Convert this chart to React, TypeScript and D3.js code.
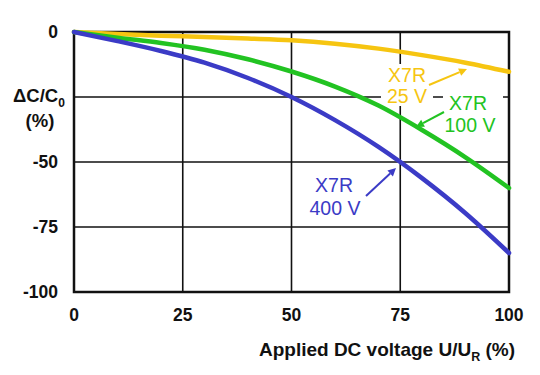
import React from "react";
import * as d3 from "d3";

const voltagePct = [0, 10, 20, 30, 40, 50, 60, 70, 80, 90, 100];
const x7r25V = [0, -0.8, -1.4, -1.9, -2.5, -3.2, -4.5, -6.4, -8.9, -11.8, -15.3];
const x7r100V = [0, -2.2, -4.2, -6.8, -10.5, -15.2, -21, -28.3, -37.7, -48.2, -60];
const x7r400V = [0, -3.5, -7.3, -11.8, -17.7, -25, -33.9, -44.2, -56.2, -69.7, -85];
const xTicks = [0, 25, 50, 75, 100];
const yTicks = [0, -25, -50, -75, -100];
const yTickLabels = ["0", "", "-50", "-75", "-100"];

const W = 540, H = 375;
const x = d3.scaleLinear().domain([0, 100]).range([74, 509]);
const y = d3.scaleLinear().domain([0, -100]).range([32, 292]);

const YELLOW = "#F6C511";
const GREEN = "#22C322";
const BLUE = "#3B3BC6";
const FONT = "'Liberation Sans', Arial, sans-serif";

const line = d3
  .line<[number, number]>()
  .x((d) => x(d[0]))
  .y((d) => y(d[1]))
  .curve(d3.curveMonotoneX);

const series = [
  { values: x7r25V, color: YELLOW },
  { values: x7r100V, color: GREEN },
  { values: x7r400V, color: BLUE },
];

function Arrow({ x1, y1, x2, y2, color }: { x1: number; y1: number; x2: number; y2: number; color: string }) {
  const ang = Math.atan2(y2 - y1, x2 - x1);
  const L = 8, Wd = 4;
  const bx = x2 - L * Math.cos(ang), by = y2 - L * Math.sin(ang);
  const px = -Math.sin(ang) * Wd, py = Math.cos(ang) * Wd;
  return (
    <g>
      <line x1={x1} y1={y1} x2={bx} y2={by} stroke={color} strokeWidth={2} />
      <polygon points={`${x2},${y2} ${bx + px},${by + py} ${bx - px},${by - py}`} fill={color} />
    </g>
  );
}

export default function App() {
  return (
    <div style={{ position: "absolute", left: 0, top: 0 }}>
      <svg width={W} height={H} style={{ display: "block", background: "#fff" }} fontFamily={FONT}>
        {/* grid */}
        {yTicks.map((t) => (
          <line key={"gy" + t} x1={x(0)} x2={x(100)} y1={y(t)} y2={y(t)} stroke="#111" strokeWidth={1.6} />
        ))}
        {xTicks.map((t) => (
          <line key={"gx" + t} x1={x(t)} x2={x(t)} y1={y(0)} y2={y(-100)} stroke="#111" strokeWidth={1.6} />
        ))}
        <rect x={x(0)} y={y(0)} width={x(100) - x(0)} height={y(-100) - y(0)} fill="none" stroke="#111" strokeWidth={2.5} />

        {/* label backgrounds */}
        <rect x={381} y={64} width={52} height={42} fill="#fff" />
        <rect x={443} y={91} width={60} height={44} fill="#fff" />

        {/* curves */}
        {series.map((s, i) => (
          <path
            key={i}
            d={line(voltagePct.map((v, j) => [v, s.values[j]] as [number, number])) || ""}
            fill="none"
            stroke={s.color}
            strokeWidth={4.5}
            strokeLinecap="round"
          />
        ))}

        {/* y tick labels */}
        {yTicks.map((t, i) =>
          yTickLabels[i] ? (
            <text key={"ty" + t} x={58} y={y(t)} dy="0.35em" textAnchor="end" fontSize={17.5} fontWeight="bold" fill="#111">
              {yTickLabels[i]}
            </text>
          ) : null
        )}
        {/* x tick labels */}
        {xTicks.map((t) => (
          <text key={"tx" + t} x={x(t)} y={321} textAnchor="middle" fontSize={17.5} fontWeight="bold" fill="#111">
            {t}
          </text>
        ))}

        {/* y label */}
        <text x={39} y={102} textAnchor="middle" fontSize={18.5} fontWeight="bold" fill="#111">
          ΔC/C<tspan fontSize={12} dy={5}>0</tspan>
        </text>
        <text x={40} y={127} textAnchor="middle" fontSize={18.5} fontWeight="bold" fill="#111">
          (%)
        </text>

        {/* x label */}
        <text x={515} y={356} textAnchor="end" fontSize={19} fontWeight="bold" fill="#111">
          Applied DC voltage U/U<tspan fontSize={12.5} dy={5}>R</tspan>
          <tspan dy={-5}> (%)</tspan>
        </text>

        {/* curve labels */}
        <g fontSize={19.5} textAnchor="middle">
          <text x={407} y={82} fill={YELLOW}>X7R</text>
          <text x={407} y={103} fill={YELLOW}>25 V</text>
          <text x={468} y={110} fill={GREEN}>X7R</text>
          <text x={470} y={132} fill={GREEN}>100 V</text>
          <text x={334} y={192} fill={BLUE}>X7R</text>
          <text x={335} y={215} fill={BLUE}>400 V</text>
        </g>
        <Arrow x1={429} y1={85} x2={467} y2={69} color={YELLOW} />
        <Arrow x1={444} y1={112} x2={416} y2={127} color={GREEN} />
        <Arrow x1={366} y1={196} x2={396} y2={168} color={BLUE} />
      </svg>
    </div>
  );
}
